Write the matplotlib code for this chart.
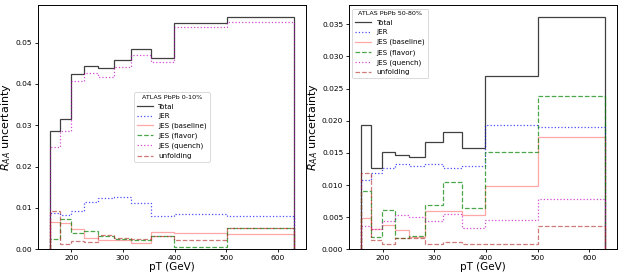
import numpy as np
import matplotlib
matplotlib.use("Agg")
import matplotlib.pyplot as plt

# pT bin edges (GeV)
edges = [158.5, 177.8, 199.5, 223.9, 251.2, 281.8, 316.2, 354.8, 398.1, 501.2, 631.0]

# ATLAS PbPb 0-10%
central_total = [0.0287, 0.0315, 0.0423, 0.0444, 0.0438, 0.0458, 0.0485, 0.0462, 0.0548, 0.0563]
central_jer = [0.0087, 0.0083, 0.0093, 0.0114, 0.0125, 0.0127, 0.0111, 0.0081, 0.0085, 0.0081]
central_jes_baseline = [0.0065, 0.0063, 0.0048, 0.0027, 0.0023, 0.0023, 0.0016, 0.0041, 0.0039, 0.0036]
central_jes_flavor = [0.0024, 0.0074, 0.0040, 0.0044, 0.0032, 0.0026, 0.0023, 0.0032, 0.0005, 0.0052]
central_jes_quench = [0.0248, 0.0286, 0.0408, 0.0427, 0.0418, 0.0440, 0.0470, 0.0452, 0.0539, 0.0551]
central_unfolding = [0.0093, 0.0013, 0.0019, 0.0018, 0.0035, 0.0027, 0.0026, 0.0032, 0.0022, 0.0052]

# ATLAS PbPb 50-80%
periph_total = [0.0194, 0.0127, 0.0151, 0.0147, 0.0143, 0.0167, 0.0183, 0.0157, 0.0269, 0.0362]
periph_jer = [0.0108, 0.0118, 0.0126, 0.0132, 0.0130, 0.0132, 0.0126, 0.0129, 0.0194, 0.0190]
periph_jes_baseline = [0.0048, 0.0031, 0.0038, 0.0030, 0.0019, 0.0060, 0.0059, 0.0053, 0.0099, 0.0174]
periph_jes_flavor = [0.0091, 0.0019, 0.0061, 0.0018, 0.0020, 0.0069, 0.0104, 0.0064, 0.0152, 0.0239]
periph_jes_quench = [0.0036, 0.0031, 0.0044, 0.0054, 0.0050, 0.0044, 0.0055, 0.0033, 0.0045, 0.0078]
periph_unfolding = [0.0119, 0.0014, 0.0009, 0.0018, 0.0018, 0.0009, 0.0012, 0.0009, 0.0008, 0.0037]

labels = ['Total', 'JER', 'JES (baseline)', 'JES (flavor)', 'JES (quench)', 'unfolding']
styles = [
	dict(color='k', linestyle='-', alpha=0.75),
	dict(color='b', linestyle=':', alpha=0.7),
	dict(color='r', linestyle='-', alpha=0.35),
	dict(color='g', linestyle='--', alpha=0.7),
	dict(color='m', linestyle=':', alpha=0.7),
	dict(color='firebrick', linestyle='--', alpha=0.6),
]

panels = [
	('ATLAS PbPb 0-10%', [central_total, central_jer, central_jes_baseline,
		central_jes_flavor, central_jes_quench, central_unfolding], 'center'),
	('ATLAS PbPb 50-80%', [periph_total, periph_jer, periph_jes_baseline,
		periph_jes_flavor, periph_jes_quench, periph_unfolding], 'upper left'),
]

fig = plt.figure(figsize=(6.23, 2.77), dpi=100)
axes = [fig.add_axes([0.0605, 0.100, 0.431, 0.882]),
	fig.add_axes([0.560, 0.100, 0.431, 0.882])]

for ax, (title, series, loc) in zip(axes, panels):
	for vals, lab, st in zip(series, labels, styles):
		ax.stairs(vals, edges, label=lab, linewidth=0.9, **st)
	ax.set_xlabel('pT (GeV)', fontsize=7.5, labelpad=1)
	ax.set_ylabel(r'$R_{AA}$ uncertainty', fontsize=8, labelpad=1.5)
	ax.tick_params(labelsize=5.4, length=2.5, width=0.6, pad=1.5)
	ax.set_xticks([200, 300, 400, 500, 600])
	for sp in ax.spines.values():
		sp.set_linewidth(0.7)
	leg = ax.legend(loc=loc, title=title, fontsize=5.1, title_fontsize=4.6,
		handlelength=2.2, labelspacing=0.5, borderpad=0.4, framealpha=1)
	leg.get_frame().set_linewidth(0.5)

plt.savefig('out.png', dpi=100)
